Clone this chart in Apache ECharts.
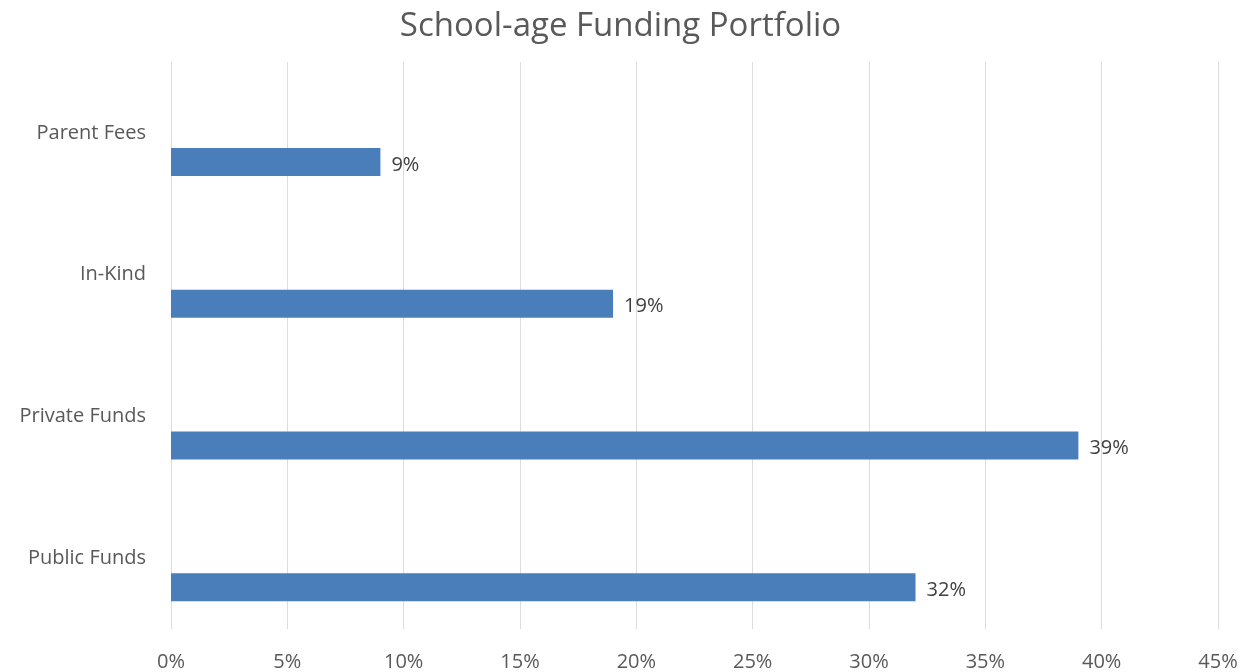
<!DOCTYPE html>
<html>
<head>
<meta charset="utf-8">
<script src="https://cdn.jsdelivr.net/npm/echarts@6/dist/echarts.min.js"></script>
<style>
  html, body { margin: 0; padding: 0; background: #fff; }
  #chart { width: 1241px; height: 672px; }
</style>
</head>
<body>
<div id="chart"></div>
<script>
// bottom to top, like the picture
var categories = ['Public Funds', 'Private Funds', 'In-Kind', 'Parent Fees'];
var shares = [32, 39, 19, 9];
var emptySlot = ['-', '-', '-', '-'];

var chart = echarts.init(document.getElementById('chart'));
var font = '"Open Sans", "Liberation Sans", sans-serif';

chart.setOption({
    backgroundColor: '#fff',
    animation: false,
    title: {
        text: 'School-age Funding Portfolio',
        left: 'center',
        top: 5,
        textStyle: { fontFamily: font, fontSize: 33, fontWeight: 'normal', color: '#595959' }
    },
    grid: { left: 171, right: 23, top: 62, bottom: 43 },
    xAxis: {
        type: 'value',
        min: 0,
        max: 45,
        interval: 5,
        axisLine: { show: false },
        axisTick: { show: false },
        axisLabel: {
            formatter: '{value}%',
            margin: 23,
            fontFamily: font,
            fontSize: 20,
            color: '#595959'
        },
        splitLine: { lineStyle: { color: '#dcdcdc', width: 1 } }
    },
    yAxis: {
        type: 'category',
        data: categories,
        axisLine: { show: false },
        axisTick: { show: false },
        axisLabel: { margin: 25, fontFamily: font, fontSize: 20, color: '#595959' }
    },
    series: [
        {
            // empty slot so the real bar sits under its label
            type: 'bar',
            data: emptySlot,
            barWidth: 56,
            barGap: '4%'
        },
        {
            type: 'bar',
            data: shares,
            barWidth: 28,
            barGap: '4%',
            itemStyle: { color: '#4a7ebb' },
            label: {
                show: true,
                position: 'right',
                distance: 11,
                offset: [0, 3],
                formatter: '{c}%',
                fontFamily: font,
                fontSize: 20,
                color: '#404040'
            }
        }
    ]
});
</script>
</body>
</html>
